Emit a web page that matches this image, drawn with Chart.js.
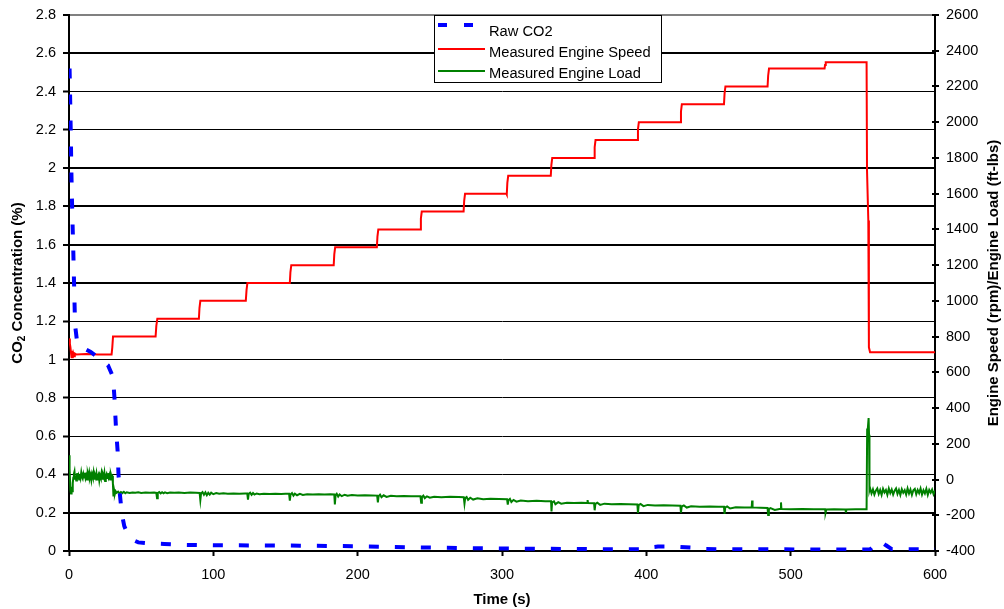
<!DOCTYPE html>
<html>
<head>
<meta charset="utf-8">
<script src="https://cdn.jsdelivr.net/npm/chart.js@4.4.1/dist/chart.umd.min.js"></script>
<style>
  html, body { margin: 0; padding: 0; background: #ffffff; }
  canvas { display: block; }
</style>
</head>
<body>
<canvas id="c" width="1004" height="609"></canvas>
<script>
// ---------------- DATA ----------------
const seriesNames = ["Raw CO2", "Measured Engine Speed", "Measured Engine Load"];

// Raw CO2 (%) : [time s, value]
const co2Series = [
  [0.4,2.52],[0.7,2.40],[1.0,2.28],[1.3,2.15],[1.6,2.00],[2.0,1.85],[2.5,1.70],[3.0,1.56],
  [3.5,1.40],[4.2,1.18],[5.5,1.10],[7.5,1.07],[10,1.06],[15,1.04],[22,1.00],[27,0.97],
  [30.5,0.91],[31.5,0.80],[32.5,0.65],[33.7,0.52],[34.3,0.40],[35.2,0.30],[36,0.24],
  [37,0.18],[38.3,0.13],[40,0.10],[42,0.075],[45,0.055],[48,0.045],[55,0.040],[66,0.037],
  [80,0.032],[100,0.030],[130,0.029],[160,0.028],[200,0.025],[240,0.019],[280,0.015],
  [320,0.012],[360,0.010],[400,0.009],[404,0.020],[408,0.023],[420,0.023],[432,0.018],
  [440,0.010],[480,0.009],[520,0.008],[555,0.008],[558,0.030],[562,0.052],[566,0.030],
  [570,0.010],[600,0.008]
];

// Measured Engine Speed (rpm) : [time s, value]
const speedSeries = [
  [0,790],[0.6,760],[1.0,740],[1.5,700],[1.8,680],[2.2,720],[2.6,680],[3.0,705],[3.5,690],
  [4,705],[5,700],[12,702],[20,700],[29.5,700],[30,740],[30.5,800],
  [60,800],[60.5,860],[61.2,900],
  [90,900],[90.4,960],[91,1000],
  [122.5,1000],[123,1060],[123.6,1100],
  [153,1100],[153.4,1160],[154,1200],
  [183.4,1200],[183.8,1260],[184.4,1300],
  [213.3,1300],[213.7,1360],[214.3,1400],
  [243.4,1400],[243.8,1460],[244.4,1500],
  [273.4,1500],[273.8,1560],[274.4,1600],
  [303,1600],[303.3,1595],[303.7,1660],[304.3,1700],
  [333.8,1700],[334.2,1760],[334.8,1800],
  [363.8,1800],[364.2,1860],[364.8,1900],
  [393.8,1900],[394.2,1960],[394.8,2000],
  [423.6,2000],[424,2060],[424.6,2100],
  [453.8,2100],[454.2,2160],[454.8,2200],
  [484,2200],[484.4,2260],[485,2300],
  [523.5,2300],[523.8,2320],[524.3,2335],
  [552.6,2335],[552.9,1730],[553.8,1450],[554.2,740],[555,712],[600,712]
];

// Measured Engine Load (ft-lbs) : [time s, value]
const loadSeries = [
  [0,40],[0.2,136],[0.6,60],[1.0,-60],[1.4,-78],[1.8,-40],[2.2,-65],[2.6,-20],[3.0,10],
  [3.4,32],[3.8,45],[4.2,5],[4.6,20],[5,-5],[5.5,35],[6,15],[6.5,25],[7,0],[7.5,30],[8,10],
  [8.5,40],[9,15],[9.5,5],[10,30],[10.5,12],[11,38],[11.5,8],[12,22],[12.5,0],[13,35],
  [13.5,18],[14,40],[14.5,10],[15,25],[15.5,-2],[16,30],[16.5,15],[17,40],[17.5,5],[18,25],
  [18.5,12],[19,35],[19.5,0],[20,20],[20.5,30],[21,-5],[21.5,22],[22,10],[22.5,35],[23,5],
  [23.5,28],[24,15],[24.5,38],[25,-8],[25.5,20],[26,30],[26.5,8],[27,35],[27.5,12],[28,25],
  [28.5,0],[29,30],[29.5,15],[30,20],[30.4,-20],[30.8,-95],[31.3,-60],[31.8,-80],[32.3,-65],
  [33,-74],[34,-68],[35,-78],[36,-70],[37,-76],[38,-69],[39,-77],[40,-71],[42,-75],[44,-72],
  [46,-74],[48,-71],[50,-75],[53,-73],[56,-74],[59,-72],[60.5,-74],[61,-105],[61.5,-75],
  [62.5,-70],[63.5,-78],[64.5,-71],[65.5,-77],[66.5,-72],[68,-76],[70,-73],[73,-74],[76,-72],
  [80,-75],[84,-73],[88,-74],[90.5,-75],[91,-115],[91.5,-78],[92.5,-70],[93.5,-85],[94.5,-72],
  [95.5,-88],[96.5,-74],[97.5,-84],[98.5,-73],[100,-82],[102,-76],[104,-80],[107,-77],
  [110,-79],[114,-78],[118,-79],[122,-78],[123.5,-78],[124,-112],[124.5,-80],[125.5,-74],
  [126.5,-86],[127.5,-76],[128.5,-84],[130,-78],[132,-82],[135,-80],[139,-81],[143,-79],
  [147,-81],[150,-80],[152.5,-80],[153,-118],[153.5,-84],[154.5,-76],[155.5,-90],[156.5,-79],
  [158,-88],[160,-80],[162,-86],[165,-82],[169,-84],[173,-82],[177,-84],[181,-83],
  [183.8,-84],[184.2,-140],[184.7,-88],[185.5,-80],[186.5,-95],[187.5,-83],[189,-93],
  [191,-85],[193,-91],[196,-87],[200,-89],[205,-88],[210,-89],[213.5,-90],[214,-128],
  [214.5,-93],[215.5,-85],[216.5,-99],[218,-88],[220,-97],[223,-91],[227,-94],[232,-92],
  [237,-93],[243.5,-94],[244,-130],[244.5,-99],[245.5,-90],[246.5,-104],[248,-94],[250,-102],
  [253,-96],[258,-99],[264,-97],[270,-98],[273.5,-99],[274,-135],[274.5,-104],[275.5,-98],
  [276.5,-114],[278,-102],[280,-112],[283,-105],[287,-110],[292,-107],[298,-109],[303.5,-110],
  [304,-140],[304.5,-115],[305.5,-108],[306.5,-126],[308,-114],[310,-124],[313,-117],
  [318,-121],[324,-119],[330,-121],[334,-122],[334.3,-178],[334.7,-128],[336,-122],[337,-138],
  [339,-127],[341,-135],[345,-130],[350,-132],[355,-130],[359,-131],[359.3,-115],[359.6,-131],
  [363.8,-133],[364.2,-172],[364.7,-136],[366,-130],[368,-142],[371,-135],[376,-139],
  [382,-137],[388,-139],[393.8,-140],[394.2,-187],[394.7,-143],[396,-137],[398,-149],
  [401,-142],[406,-146],[412,-144],[418,-146],[423.6,-147],[424,-185],[424.5,-151],
  [426,-145],[428,-157],[431,-150],[437,-153],[444,-151],[450,-153],[453.8,-153],
  [454.2,-193],[454.7,-156],[456,-150],[458,-162],[462,-155],[468,-157],[473,-156],
  [473.3,-118],[473.6,-156],[479,-158],[484,-159],[484.4,-198],[484.9,-165],[486,-160],
  [489,-170],[493,-164],[493.3,-128],[493.6,-165],[500,-166],[508,-165],[516,-167],
  [523.8,-166],[524.2,-185],[524.7,-168],[530,-167],[538,-168],[538.3,-185],[538.6,-168],
  [545,-167],[552.6,-167],[553,280],[553.5,290],[554,344],[554.3,250],[554.6,-60],[555,-48],
  [556,-78],[557,-55],[558,-84],[559,-62],[560,-50],[561,-80],[562,-58],[563,-86],[564,-52],
  [565,-72],[566,-58],[567,-85],[568,-50],[569,-76],[570,-56],[571,-84],[572,-62],[573,-50],
  [574,-80],[575,-58],[576,-86],[577,-54],[578,-74],[579,-60],[580,-84],[581,-50],[582,-78],
  [583,-56],[584,-86],[585,-60],[586,-52],[587,-82],[588,-58],[589,-76],[590,-50],[591,-84],
  [592,-60],[593,-78],[594,-52],[595,-86],[596,-58],[597,-74],[598,-56],[599,-82],[600,-62]
];

// Tick values
const xTickValues = [0, 100, 200, 300, 400, 500, 600];
const leftTickValues = [0, 0.2, 0.4, 0.6, 0.8, 1, 1.2, 1.4, 1.6, 1.8, 2, 2.2, 2.4, 2.6, 2.8];
const rightTickValues = [-400, -200, 0, 200, 400, 600, 800, 1000, 1200, 1400, 1600, 1800, 2000, 2200, 2400, 2600];

// Axis titles
const xTitle = "Time (s)";
const leftTitleParts = [["CO", false], ["2", true], [" Concentration (%)", false]];
const rightTitle = "Engine Speed (rpm)/Engine Load (ft-lbs)";

// ---------------- STYLE ----------------
const FONT = "'Liberation Sans', Arial, sans-serif";
const COLORS = ["#0000FF", "#FF0000", "#008000"];
const thickGrid = [0, 2, 14, 16, 18, 20, 26]; // tenths

const toXY = s => s.map(p => ({ x: p[0], y: p[1] }));

const fitV = w => s => { s.width = w; s.paddingTop = 0; s.paddingBottom = 0; };

const overlay = {
  id: 'overlay',
  afterDraw(chart) {
    const ctx = chart.ctx;
    const ca = chart.chartArea;
    const y2 = chart.scales.y2;
    ctx.save();
    // right axis crossing tick marks
    ctx.strokeStyle = '#000';
    ctx.lineWidth = 2;
    rightTickValues.forEach(v => {
      const py = Math.round(y2.getPixelForValue(v));
      ctx.beginPath();
      ctx.moveTo(ca.right - 3, py);
      ctx.lineTo(ca.right + 4, py);
      ctx.stroke();
    });

    // legend box
    const lx = 434.5, ly = ca.top + 0.5, lw = 227, lh = 67;
    ctx.fillStyle = '#fff';
    ctx.fillRect(lx, ly, lw, lh);
    ctx.strokeStyle = '#000';
    ctx.lineWidth = 1;
    ctx.strokeRect(lx, ly, lw, lh);

    const rowsY = [25, 49, 71];
    const textY = [36, 57.3, 78.3];
    // blue dashed sample
    ctx.beginPath();
    ctx.setLineDash([9, 17]);
    ctx.lineWidth = 4;
    ctx.strokeStyle = COLORS[0];
    ctx.moveTo(438, rowsY[0]);
    ctx.lineTo(485, rowsY[0]);
    ctx.stroke();
    ctx.setLineDash([]);
    for (let i = 1; i < 3; i++) {
      ctx.beginPath();
      ctx.lineWidth = 2;
      ctx.strokeStyle = COLORS[i];
      ctx.moveTo(438, rowsY[i]);
      ctx.lineTo(485, rowsY[i]);
      ctx.stroke();
    }
    ctx.fillStyle = '#000';
    ctx.font = "14.7px " + FONT;
    ctx.textAlign = 'left';
    ctx.textBaseline = 'alphabetic';
    seriesNames.forEach((n, i) => ctx.fillText(n, 489, textY[i]));

    // axis titles
    ctx.fillStyle = '#000';
    ctx.textBaseline = 'middle';
    ctx.font = "bold 15px " + FONT;
    ctx.textAlign = 'center';
    ctx.fillText(xTitle, (ca.left + ca.right) / 2, 600);
    ctx.save();
    ctx.translate(994, (ca.top + ca.bottom) / 2);
    ctx.rotate(-Math.PI / 2);
    ctx.fillText(rightTitle, 0, 0);
    ctx.restore();
    ctx.save();
    ctx.translate(18, (ca.top + ca.bottom) / 2);
    ctx.rotate(-Math.PI / 2);
    ctx.textAlign = 'left';
    const fMain = "bold 15px " + FONT, fSub = "bold 10px " + FONT;
    let total = 0;
    leftTitleParts.forEach(([t, sub]) => { ctx.font = sub ? fSub : fMain; total += ctx.measureText(t).width; });
    let cx = -total / 2;
    leftTitleParts.forEach(([t, sub]) => {
      ctx.font = sub ? fSub : fMain;
      ctx.fillText(t, cx, sub ? 4 : 0);
      cx += ctx.measureText(t).width;
    });
    ctx.restore();
    ctx.restore();
  }
};

new Chart(document.getElementById('c'), {
  type: 'line',
  data: {
    datasets: [
      { label: seriesNames[0], data: toXY(co2Series), yAxisID: 'y', borderColor: COLORS[0],
        borderWidth: 4, borderDash: [10, 16], borderCapStyle: 'butt', pointRadius: 0, fill: false, tension: 0 },
      { label: seriesNames[1], data: toXY(speedSeries), yAxisID: 'y2', borderColor: COLORS[1],
        borderWidth: 2, pointRadius: 0, fill: false, tension: 0 },
      { label: seriesNames[2], data: toXY(loadSeries), yAxisID: 'y2', borderColor: COLORS[2],
        borderWidth: 2, pointRadius: 0, fill: false, tension: 0 }
    ]
  },
  options: {
    responsive: false,
    animation: false,
    devicePixelRatio: 1,
    layout: { padding: { top: 15, left: 0, right: 0, bottom: 0 } },
    plugins: { legend: { display: false }, tooltip: { enabled: false } },
    scales: {
      x: {
        type: 'linear', min: 0, max: 600,
        afterBuildTicks: s => { s.ticks = xTickValues.map(v => ({ value: v })); },
        afterFit: s => { s.height = 58; s.paddingLeft = 0; s.paddingRight = 0; },
        ticks: { font: { family: FONT, size: 14.5 }, color: '#000', padding: 10, maxRotation: 0,
                 callback: v => String(v) },
        grid: { drawOnChartArea: false, drawTicks: true, tickLength: 5, tickColor: '#000', tickWidth: 2 },
        border: { display: true, color: '#000', width: 2 }
      },
      y: {
        type: 'linear', position: 'left', min: 0, max: 2.8,
        afterBuildTicks: s => { s.ticks = leftTickValues.map(v => ({ value: v })); },
        afterFit: fitV(69),
        ticks: { font: { family: FONT, size: 14.5 }, color: '#000', padding: 7,
                 callback: v => String(+v.toFixed(1)) },
        grid: {
          drawTicks: true, tickLength: 6, tickColor: '#000', tickWidth: 2,
          color: c => (Math.round(c.tick.value * 10) === 28 ? '#808080' : '#000'),
          lineWidth: c => (thickGrid.includes(Math.round(c.tick.value * 10)) || Math.round(c.tick.value * 10) === 28 ? 2 : 1)
        },
        border: { display: true, color: '#000', width: 2 }
      },
      y2: {
        type: 'linear', position: 'right', min: -400, max: 2600,
        afterBuildTicks: s => { s.ticks = rightTickValues.map(v => ({ value: v })); },
        afterFit: fitV(69),
        ticks: { font: { family: FONT, size: 14.5 }, color: '#000', padding: 11,
                 callback: v => String(v) },
        grid: { drawOnChartArea: false, drawTicks: false },
        border: { display: true, color: '#000', width: 2 }
      }
    }
  },
  plugins: [overlay]
});
</script>
</body>
</html>
